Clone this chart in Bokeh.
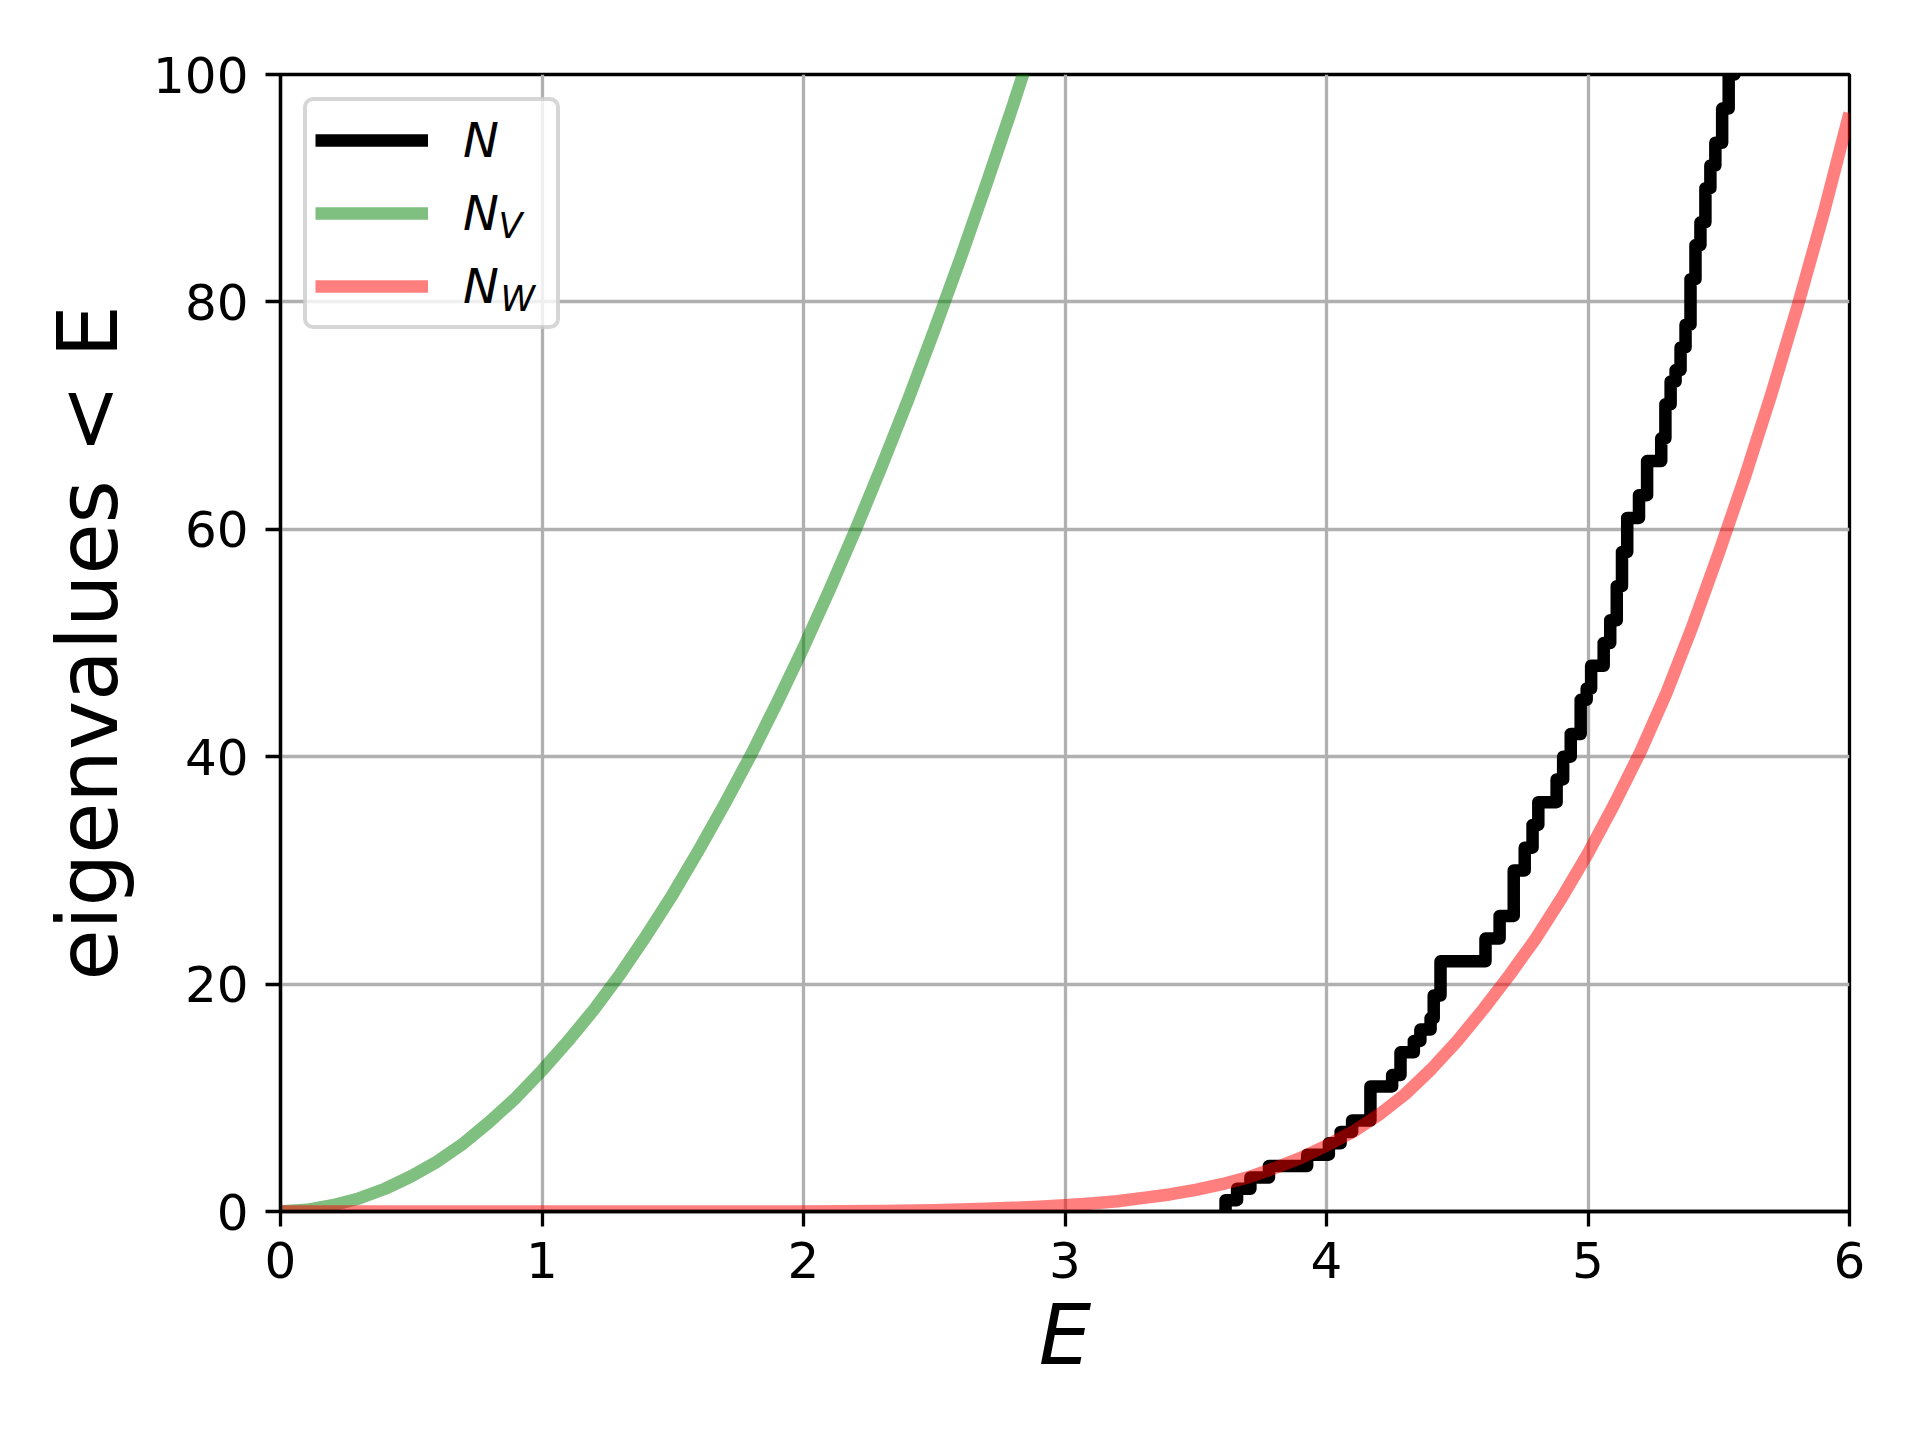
from bokeh.plotting import figure
from bokeh.models import Legend, LegendItem, Label, Range1d, FixedTicker, BoxAnnotation
from bokeh.embed import file_html
from bokeh.resources import INLINE

# ---- data ----
# energies at which the counting function N jumps, and N just after each jump
step_E = [3.614, 3.658, 3.709, 3.780, 3.926, 4.009, 4.054, 4.098, 4.168, 4.251,
          4.283, 4.334, 4.359, 4.398, 4.410, 4.436, 4.608, 4.662, 4.716, 4.758,
          4.788, 4.810, 4.880, 4.905, 4.934, 4.972, 4.995, 5.012, 5.060, 5.085,
          5.110, 5.130, 5.150, 5.195, 5.226, 5.280, 5.296, 5.316, 5.335, 5.354,
          5.373, 5.392, 5.411, 5.430, 5.449, 5.468, 5.487, 5.513, 5.538, 5.560]
step_N = [1, 2, 3, 4, 5, 6, 7, 8, 11, 12,
          14, 15, 16, 17, 19, 22, 24, 26, 30, 32,
          34, 36, 38, 40, 42, 45, 46, 48, 50, 52,
          55, 58, 61, 63, 66, 68, 71, 73, 74, 76,
          78, 82, 85, 87, 90, 92, 94, 97, 100, 102]

nv_E = [0.0, 0.1, 0.2, 0.3, 0.4, 0.5, 0.6, 0.7, 0.8, 0.9, 1.0, 1.1, 1.2, 1.3, 1.4,
        1.5, 1.6, 1.7, 1.8, 1.9, 2.0, 2.1, 2.2, 2.3, 2.4, 2.5, 2.6, 2.7, 2.8, 2.9]
nv_N = [0.0, 0.15, 0.55, 1.15, 2.0, 3.1, 4.4, 6.0, 7.9, 10.0, 12.4, 15.0, 17.8, 20.9, 24.3,
        27.9, 31.8, 35.9, 40.2, 44.8, 49.6, 54.7, 60.0, 65.6, 71.4, 77.5, 83.8, 90.4, 97.2, 104.3]

nw_E = [0.0, 1.0, 1.5, 2.0, 2.3, 2.5, 2.6, 2.7, 2.8, 2.9, 3.0, 3.1, 3.2, 3.3, 3.4,
        3.5, 3.6, 3.7, 3.8, 3.9, 4.0, 4.1, 4.2, 4.3, 4.4, 4.5, 4.6, 4.7, 4.8, 4.9,
        5.0, 5.1, 5.2, 5.3, 5.4, 5.5, 5.6, 5.7, 5.8, 5.9, 6.0]
nw_N = [0.0, 0.0, 0.0, 0.01, 0.05, 0.12, 0.17, 0.24, 0.32, 0.42, 0.55, 0.7, 0.9, 1.2, 1.5,
        1.9, 2.4, 3.0, 3.8, 4.7, 5.8, 7.0, 8.5, 10.3, 12.5, 15.0, 17.8, 20.8, 24.0, 27.6,
        31.5, 35.8, 40.4, 45.6, 51.5, 57.9, 64.6, 71.8, 79.5, 87.7, 96.6]

x_ticks = [0, 1, 2, 3, 4, 5, 6]
y_ticks = [0, 20, 40, 60, 80, 100]
x_label = "E"
y_label = "eigenvalues < E"
legend_main = ["N", "N", "N"]
legend_sub = ["", "V", "W"]

FONT = "DejaVu Sans"
LW = 12.5
THIN = 3.3

p = figure(frame_width=1569, frame_height=1137,
           x_range=Range1d(0, 6), y_range=Range1d(0, 100),
           output_backend="svg", toolbar_location=None,
           min_border_left=280, min_border_right=55,
           min_border_top=74, min_border_bottom=213,
           background_fill_color="white", border_fill_color="white")

p.outline_line_color = "black"
p.outline_line_width = THIN
p.outline_line_alpha = 1.0

# grid
p.xaxis.ticker = FixedTicker(ticks=x_ticks)
p.yaxis.ticker = FixedTicker(ticks=y_ticks)
p.xgrid.ticker = FixedTicker(ticks=x_ticks)
p.ygrid.ticker = FixedTicker(ticks=y_ticks)
p.grid.grid_line_color = "#b0b0b0"
p.grid.grid_line_width = THIN

# axes
for ax in (p.xaxis[0], p.yaxis[0]):
    ax.axis_line_color = "black"
    ax.axis_line_width = THIN
    ax.major_tick_line_color = "black"
    ax.major_tick_line_width = THIN
    ax.major_tick_out = 15
    ax.major_tick_in = 0
    ax.minor_tick_line_color = None
    ax.major_label_text_font = FONT
    ax.major_label_text_font_size = "50px"
    ax.major_label_text_color = "black"
    ax.axis_label_text_font = FONT
    ax.axis_label_text_font_size = "83px"
    ax.axis_label_text_color = "black"

p.xaxis.axis_label = x_label
p.xaxis.axis_label_text_font_style = "italic"
p.xaxis.major_label_standoff = 15
p.xaxis.axis_label_standoff = 6
p.yaxis.axis_label = y_label
p.yaxis.axis_label_text_font_style = "normal"
p.yaxis.major_label_standoff = 17
p.yaxis.axis_label_standoff = 13

# translucent white background of the legend frame (below the curves' level)
legend_bg = BoxAnnotation(left=24, right=279, top=1113, bottom=885,
                          left_units="screen", right_units="screen",
                          top_units="screen", bottom_units="screen",
                          fill_color="white", fill_alpha=0.8,
                          line_color=None, level="underlay")
if "border_radius" in BoxAnnotation.properties():
    legend_bg.border_radius = 10
p.add_layout(legend_bg)

# step data for N: start at zero at the first eigenvalue
sx = [step_E[0]] + step_E
sy = [0] + step_N
r_n = p.step(sx, sy, mode="after", line_color="black", line_width=LW, line_join="round")
r_v = p.line(nv_E, nv_N, line_color="green", line_alpha=0.5, line_width=LW, line_join="round")
r_w = p.line(nw_E, nw_N, line_color="red", line_alpha=0.5, line_width=LW, line_join="round")

legend = Legend(items=[LegendItem(label=legend_main[0], renderers=[r_n]),
                       LegendItem(label=legend_main[1], renderers=[r_v]),
                       LegendItem(label=legend_main[2], renderers=[r_w])],
                location="top_left", margin=23, padding=8, spacing=11,
                glyph_width=113, glyph_height=62, label_height=62, label_width=85,
                label_standoff=35,
                label_text_font=FONT, label_text_font_style="italic",
                label_text_font_size="48px", label_text_color="black",
                border_line_color="#cccccc", border_line_alpha=0.8, border_line_width=4,
                background_fill_color=None, background_fill_alpha=0.0)
if "border_radius" in Legend.properties():
    legend.border_radius = 10
p.add_layout(legend)

# subscripts of the legend labels (screen units relative to the frame)
sub_x = [None, 218, 220]
sub_y = [None, 986, 913]
for i in (1, 2):
    p.add_layout(Label(x=sub_x[i], y=sub_y[i], x_units="screen", y_units="screen",
                       text=legend_sub[i], text_font=FONT, text_font_style="italic",
                       text_font_size="35px", text_color="black",
                       text_baseline="alphabetic", text_align="left", level="overlay"))

open("out.html", "w").write(file_html(p, INLINE))
